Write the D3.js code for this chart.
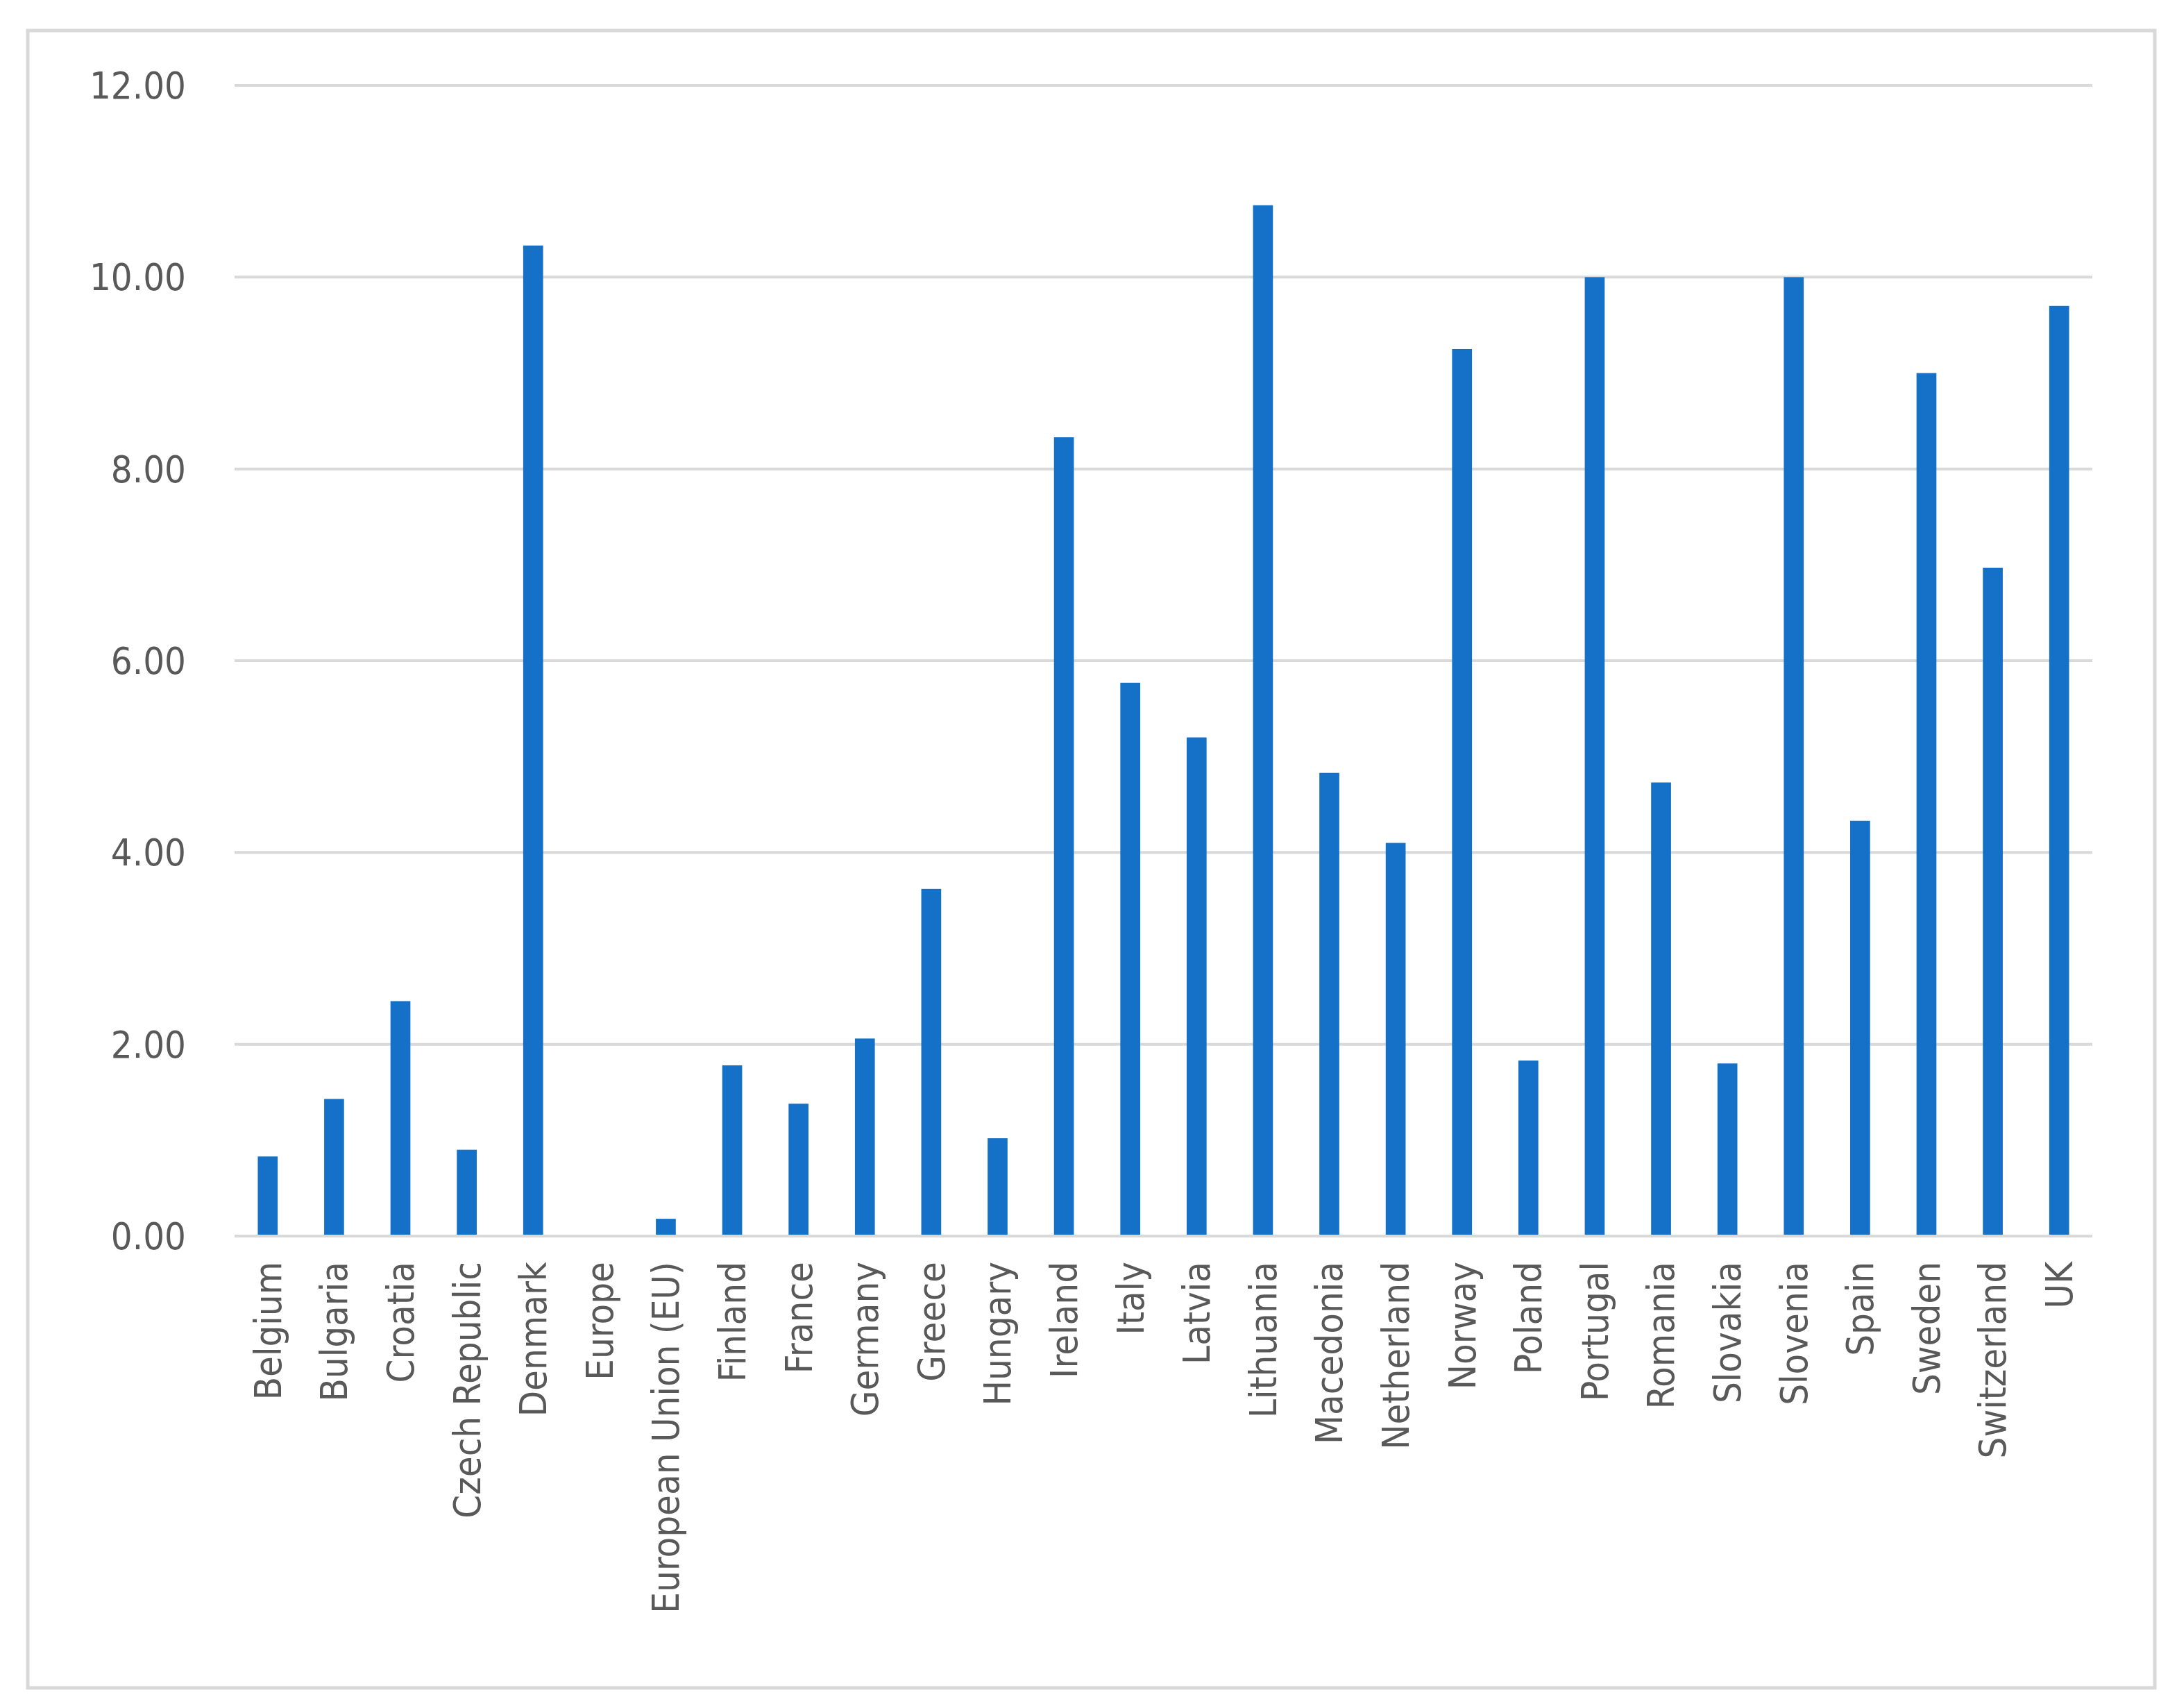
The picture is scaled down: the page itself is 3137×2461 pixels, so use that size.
<!DOCTYPE html>
<html><head><meta charset="utf-8">
<script src="https://cdn.jsdelivr.net/npm/d3@7"></script>
<style>body{margin:0;background:#fff}</style>
</head><body>
<svg id="chart"></svg>
<script>
const countries = ["Belgium","Bulgaria","Croatia","Czech Republic","Denmark","Europe","European Union (EU)","Finland","France","Germany","Greece","Hungary","Ireland","Italy","Latvia","Lithuania","Macedonia","Netherland","Norway","Poland","Portugal","Romania","Slovakia","Slovenia","Spain","Sweden","Switzerland","UK"];
const values = [0.83,1.43,2.45,0.90,10.33,0,0.18,1.78,1.38,2.06,3.62,1.02,8.33,5.77,5.20,10.75,4.83,4.10,9.25,1.83,10.00,4.73,1.80,10.00,4.33,9.00,6.97,9.70];
const yTicks = [0,2,4,6,8,10,12];

const W = 3137, H = 2461;
const font = "'Liberation Sans Narrow','DejaVu Sans Condensed','Open Sans',sans-serif";
const svg = d3.select('#chart').attr('width', W).attr('height', H);

// outer frame
svg.append('rect').attr('x', 40).attr('y', 44).attr('width', 3065).attr('height', 2388)
  .attr('fill', 'none').attr('stroke', '#d9d9d9').attr('stroke-width', 5);

const x = d3.scaleBand().domain(countries).range([338, 3015]).paddingInner(0.7).paddingOuter(0.35);
const y = d3.scaleLinear().domain([0, 12]).range([1781, 123]);

// gridlines
svg.selectAll('line.grid').data(yTicks).enter().append('line')
  .attr('x1', 338).attr('x2', 3015)
  .attr('y1', d => y(d)).attr('y2', d => y(d))
  .attr('stroke', '#d9d9d9').attr('stroke-width', 4);

// y labels
svg.selectAll('text.yl').data(yTicks).enter().append('text')
  .attr('x', 268).attr('y', d => y(d)).attr('dy', '0.35em')
  .attr('text-anchor', 'end').attr('font-family', font).attr('font-size', 54)
  .attr('fill', '#595959').text(d => d.toFixed(2));

// bars
svg.selectAll('rect.bar').data(values).enter().append('rect')
  .attr('x', (d, i) => x(countries[i])).attr('width', x.bandwidth())
  .attr('y', d => y(d)).attr('height', d => y(0) - y(d))
  .attr('fill', '#1570c8');

// axis line on top
svg.append('line').attr('x1', 338).attr('x2', 3015).attr('y1', y(0)).attr('y2', y(0))
  .attr('stroke', '#d9d9d9').attr('stroke-width', 4);

// category labels
svg.selectAll('text.xl').data(countries).enter().append('text')
  .attr('transform', d => `translate(${x(d) + x.bandwidth() / 2},1818) rotate(-90)`)
  .attr('dy', '0.35em').attr('text-anchor', 'end')
  .attr('font-family', font).attr('font-size', 54).attr('fill', '#595959')
  .text(d => d);
</script>
</body></html>
